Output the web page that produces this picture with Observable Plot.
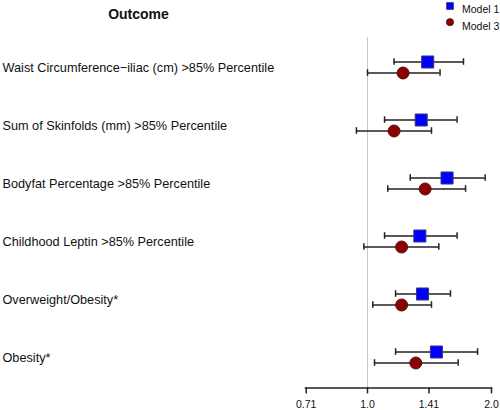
<!DOCTYPE html>
<html>
<head>
<meta charset="utf-8">
<script src="https://cdn.jsdelivr.net/npm/d3@7"></script>
<script src="https://cdn.jsdelivr.net/npm/@observablehq/plot@0.6"></script>
<style>
  html, body { margin: 0; padding: 0; background: #fff; }
  svg { display: block; }
</style>
</head>
<body>
<div id="chart"></div>
<script>
const outcomes = [
  "Waist Circumference\u2212iliac (cm) >85% Percentile",
  "Sum of Skinfolds (mm) >85% Percentile",
  "Bodyfat Percentage >85% Percentile",
  "Childhood Leptin >85% Percentile",
  "Overweight/Obesity*",
  "Obesity*"
];
const models = ["Model 1", "Model 3"];
const model1Est = [1.40, 1.35, 1.56, 1.34, 1.36, 1.47];
const model1Lo  = [1.16, 1.10, 1.27, 1.10, 1.17, 1.17];
const model1Hi  = [1.71, 1.65, 1.93, 1.65, 1.59, 1.85];
const model3Est = [1.22, 1.16, 1.38, 1.21, 1.21, 1.31];
const model3Lo  = [1.00, 0.94, 1.12, 0.98, 1.03, 1.04];
const model3Hi  = [1.50, 1.43, 1.73, 1.49, 1.43, 1.66];
const xTicks = [0.71, 1.0, 1.41, 2.0];
const xTickLabels = ["0.71", "1.0", "1.41", "2.0"];

const m1 = outcomes.map((o, i) => ({outcome: o, est: model1Est[i], lo: model1Lo[i], hi: model1Hi[i]}));
const m3 = outcomes.map((o, i) => ({outcome: o, est: model3Est[i], lo: model3Lo[i], hi: model3Hi[i]}));

const W = 500, H = 410;
const mL = 305, mR = 9, mT = 37, mB = 22.6;
const bw = (H - mT - mB) / outcomes.length;
const capHalf = 3.5;
const inset = bw / 2 - capHalf;
const off = 5.5;
const font = "Arial, 'Liberation Sans', sans-serif";

function errorMarks(data, dy) {
  return [
    Plot.ruleY(data, {y: "outcome", x1: "lo", x2: "hi", dy, stroke: "#222", strokeWidth: 1.5}),
    Plot.tickX(data, {x: "lo", y: "outcome", dy, insetTop: inset, insetBottom: inset, stroke: "#222", strokeWidth: 1.5}),
    Plot.tickX(data, {x: "hi", y: "outcome", dy, insetTop: inset, insetBottom: inset, stroke: "#222", strokeWidth: 1.5})
  ];
}

const chart = Plot.plot({
  width: W,
  height: H,
  marginLeft: mL,
  marginRight: mR,
  marginTop: mT,
  marginBottom: mB,
  style: {fontFamily: font, background: "#fff"},
  x: {type: "log", domain: [Math.SQRT1_2, 2], axis: null},
  y: {type: "band", domain: outcomes, padding: 0, axis: null},
  marks: [
    Plot.ruleX([1], {stroke: "#c8c8c8", strokeWidth: 1}),
    Plot.frame({anchor: "bottom", stroke: "#222", strokeWidth: 1.5}),
    Plot.axisX({
      ticks: xTicks,
      tickFormat: d => xTickLabels[xTicks.indexOf(d)],
      tickSize: 6,
      tickPadding: 6.5,
      stroke: "#222",
      strokeWidth: 1.5,
      fontSize: 10.5,
      fill: "#111"
    }),
    ...errorMarks(m1, -off),
    ...errorMarks(m3, off),
    Plot.dot(m1, {x: "est", y: "outcome", dy: -off, symbol: "square", r: 6.8, fill: "#0000ff", stroke: "#3a3a7a", strokeWidth: 1}),
    Plot.dot(m3, {x: "est", y: "outcome", dy: off, symbol: "circle", r: 6, fill: "#8b0000", stroke: "#5a1010", strokeWidth: 1}),
    Plot.text(outcomes, {y: d => d, text: d => d, frameAnchor: "left", dx: 2 - mL, textAnchor: "start", fontSize: 12.7, fill: "#111"}),
    Plot.text(["Outcome"], {frameAnchor: "top-left", dx: 138 - mL, dy: 8.5 - mT, text: d => d, textAnchor: "middle", fontSize: 14, fontWeight: "bold", fill: "#111"}),
    Plot.dot([models[0]], {frameAnchor: "top-right", dx: 449.5 - (W - mR), dy: 5.5 - mT, symbol: "square", r: 3.9, fill: "#0000ff", stroke: "#3a3a7a", strokeWidth: 0.8}),
    Plot.dot([models[1]], {frameAnchor: "top-right", dx: 449.5 - (W - mR), dy: 21.7 - mT, symbol: "circle", r: 3.6, fill: "#8b0000", stroke: "#5a1010", strokeWidth: 0.8}),
    Plot.text([models[0]], {frameAnchor: "top-right", dx: 461.5 - (W - mR), dy: 5.5 - mT, text: d => d, textAnchor: "start", fontSize: 10.5, fill: "#111"}),
    Plot.text([models[1]], {frameAnchor: "top-right", dx: 461.5 - (W - mR), dy: 21.7 - mT, text: d => d, textAnchor: "start", fontSize: 10.5, fill: "#111"})
  ]
});
document.getElementById("chart").append(chart);
</script>
</body>
</html>
